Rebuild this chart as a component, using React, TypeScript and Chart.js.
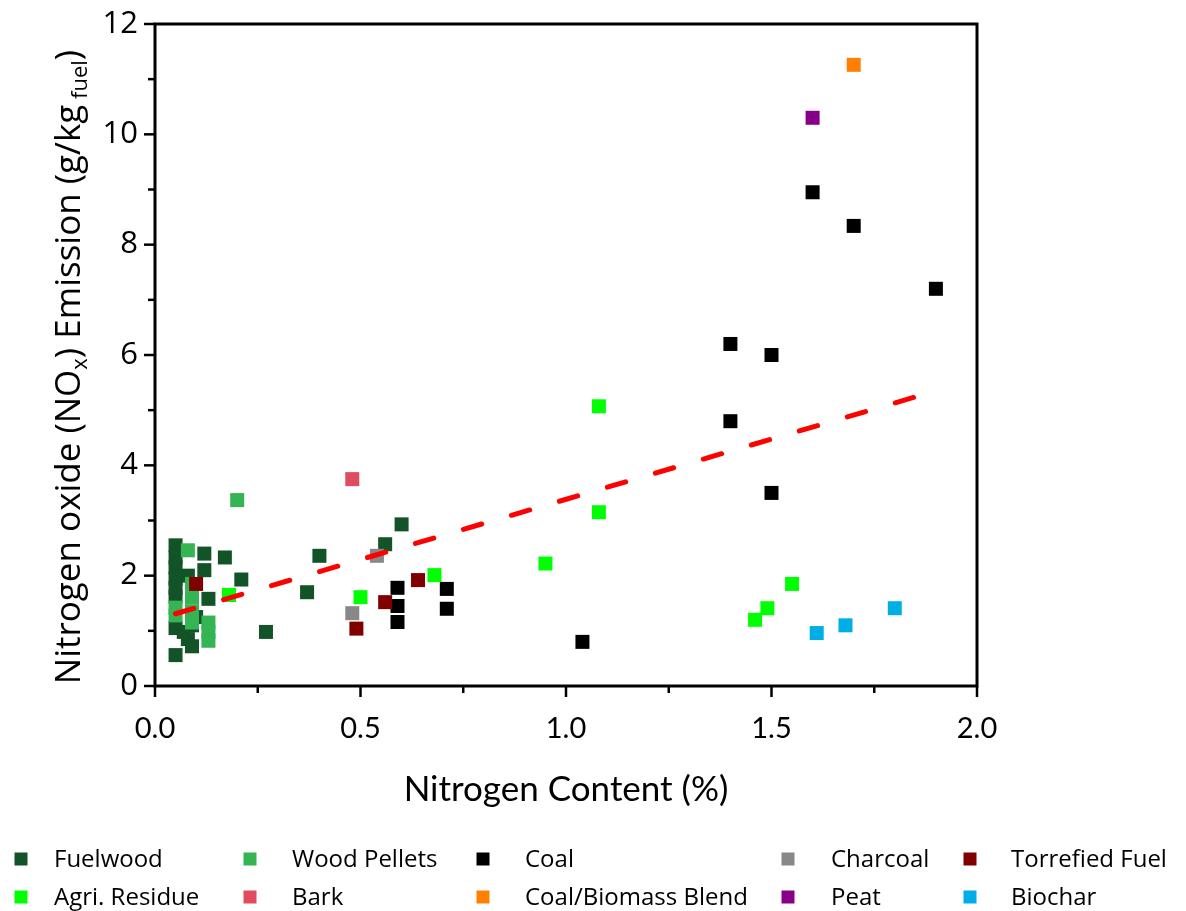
import { useEffect, useRef } from 'react';
import { Chart, registerables } from 'chart.js';

Chart.register(...registerables);

// Nitrogen content (%) and NOx emission (g/kg fuel), one pair of arrays per fuel type
const fuelwoodN = [0.05, 0.05, 0.05, 0.05, 0.05, 0.05, 0.08, 0.05, 0.07, 0.09, 0.1, 0.08, 0.09, 0.05, 0.12, 0.12, 0.13, 0.17, 0.21, 0.27, 0.37, 0.4, 0.56, 0.6];
const fuelwoodNOx = [2.55, 2.33, 2.15, 1.95, 1.78, 1.62, 2.0, 1.05, 0.98, 1.1, 1.25, 0.85, 0.72, 0.56, 2.4, 2.1, 1.58, 2.33, 1.93, 0.98, 1.7, 2.36, 2.57, 2.93];

const pelletsN = [0.2, 0.08, 0.09, 0.09, 0.09, 0.09, 0.05, 0.05, 0.13, 0.13, 0.13];
const pelletsNOx = [3.37, 2.46, 1.85, 1.6, 1.35, 1.15, 1.42, 1.28, 1.15, 0.98, 0.82];

const coalN = [0.59, 0.59, 0.59, 0.71, 0.71, 1.04, 1.4, 1.5, 1.4, 1.5, 1.9, 1.6, 1.7];
const coalNOx = [1.78, 1.45, 1.16, 1.76, 1.4, 0.8, 6.2, 6.0, 4.8, 3.5, 7.2, 8.95, 8.34];

const charcoalN = [0.54, 0.48];
const charcoalNOx = [2.36, 1.32];

const torrefiedN = [0.1, 0.49, 0.56, 0.64];
const torrefiedNOx = [1.85, 1.04, 1.52, 1.92];

const agriN = [0.18, 0.5, 0.68, 0.95, 1.08, 1.08, 1.55, 1.49, 1.46];
const agriNOx = [1.65, 1.61, 2.01, 2.22, 5.07, 3.15, 1.85, 1.41, 1.2];

const barkN = [0.48];
const barkNOx = [3.75];

const blendN = [1.7];
const blendNOx = [11.26];

const peatN = [1.6];
const peatNOx = [10.3];

const biocharN = [1.61, 1.68, 1.8];
const biocharNOx = [0.96, 1.1, 1.41];

// Linear fit end points
const fitN = [0.05, 1.85];
const fitNOx = [1.31, 5.24];

const xTicks = [0, 0.5, 1, 1.5, 2];
const yTicks = [0, 2, 4, 6, 8, 10, 12];

// Legend order is column by column: Fuelwood / Agri. Residue, Wood Pellets / Bark, ...
const seriesTable = [
  { label: 'Fuelwood', color: '#125428', n: fuelwoodN, v: fuelwoodNOx },
  { label: 'Agri. Residue', color: '#00FF00', n: agriN, v: agriNOx },
  { label: 'Wood Pellets', color: '#34B452', n: pelletsN, v: pelletsNOx },
  { label: 'Bark', color: '#E04B5F', n: barkN, v: barkNOx },
  { label: 'Coal', color: '#000000', n: coalN, v: coalNOx },
  { label: 'Coal/Biomass Blend', color: '#FF8000', n: blendN, v: blendNOx },
  { label: 'Charcoal', color: '#888888', n: charcoalN, v: charcoalNOx },
  { label: 'Peat', color: '#880088', n: peatN, v: peatNOx },
  { label: 'Torrefied Fuel', color: '#800000', n: torrefiedN, v: torrefiedNOx },
  { label: 'Biochar', color: '#00AEE6', n: biocharN, v: biocharNOx },
];

// Draw priority: fuelwood at the back, then wood pellets, coal, ...
const drawRank: Record<string, number> = {
  'Fuelwood': 0,
  'Wood Pellets': 1,
  'Coal': 2,
  'Charcoal': 3,
  'Torrefied Fuel': 4,
  'Agri. Residue': 5,
  'Bark': 6,
  'Coal/Biomass Blend': 7,
  'Peat': 8,
  'Biochar': 9,
};

const legendMarkerX = [21, 250, 483, 788, 970];
const legendTextX = [54, 292, 525, 831, 1011];
const legendRowY = [859, 897];

const AXIS_FONT = '"Open Sans", "DejaVu Sans", sans-serif';
const NARROW_FONT = 'Lato, "Open Sans", sans-serif';

const framePlugin = {
  id: 'frameAndText',
  afterDraw(chart: any) {
    const { ctx, chartArea } = chart;
    const { left, right, top, bottom } = chartArea;
    const xs = chart.scales.x;
    const ys = chart.scales.y;
    ctx.save();

    // frame
    ctx.strokeStyle = '#000';
    ctx.lineWidth = 3;
    ctx.lineCap = 'butt';
    ctx.strokeRect(left, top, right - left, bottom - top);

    // outward ticks on left and bottom
    ctx.lineWidth = 2.5;
    for (let v = 0; v <= 12 + 1e-9; v += 1) {
      const y = ys.getPixelForValue(v);
      const len = v % 2 === 0 ? 11 : 7;
      ctx.beginPath();
      ctx.moveTo(left, y);
      ctx.lineTo(left - len, y);
      ctx.stroke();
    }
    for (let i = 0; i <= 8; i++) {
      const v = i * 0.25;
      const x = xs.getPixelForValue(v);
      const len = i % 2 === 0 ? 11 : 7;
      ctx.beginPath();
      ctx.moveTo(x, bottom);
      ctx.lineTo(x, bottom + len);
      ctx.stroke();
    }

    // x-axis title
    ctx.fillStyle = '#000';
    ctx.font = `35px ${NARROW_FONT}`;
    ctx.textAlign = 'center';
    ctx.textBaseline = 'middle';
    ctx.fillText('Nitrogen Content (%)', (left + right) / 2, 790);

    // y-axis title with subscripts
    const parts = [
      { t: 'Nitrogen oxide (NO', sub: false },
      { t: 'x', sub: true },
      { t: ') Emission (g/kg', sub: false },
      { t: ' fuel', sub: true },
      { t: ')', sub: false },
    ];
    const mainFont = `35px ${AXIS_FONT}`;
    const subFont = `22px ${AXIS_FONT}`;
    let total = 0;
    const widths = parts.map((p) => {
      ctx.font = p.sub ? subFont : mainFont;
      const w = ctx.measureText(p.t).width;
      total += w;
      return w;
    });
    ctx.translate(80, 367);
    ctx.rotate(-Math.PI / 2);
    ctx.textAlign = 'left';
    ctx.textBaseline = 'alphabetic';
    let cx = -total / 2;
    parts.forEach((p, i) => {
      ctx.font = p.sub ? subFont : mainFont;
      ctx.fillText(p.t, cx, p.sub ? 7 : 0);
      cx += widths[i];
    });
    ctx.setTransform(1, 0, 0, 1, 0, 0);

    // legend, two rows by five columns
    ctx.font = `24px ${AXIS_FONT}`;
    ctx.textAlign = 'left';
    ctx.textBaseline = 'middle';
    chart.data.datasets.forEach((ds: any, i: number) => {
      if (ds.isFit) return;
      const col = Math.floor(i / 2);
      const row = i % 2;
      const y = legendRowY[row];
      ctx.fillStyle = ds.backgroundColor;
      ctx.fillRect(legendMarkerX[col] - 6.5, y - 6.5, 13, 13);
      ctx.fillStyle = '#000';
      ctx.fillText(ds.label, legendTextX[col], y + 1);
    });
    ctx.restore();
  },
};

export default function App() {
  const canvasRef = useRef<HTMLCanvasElement | null>(null);

  useEffect(() => {
    if (!canvasRef.current) return;
    const datasets: any[] = seriesTable.map((s) => ({
      type: 'scatter',
      label: s.label,
      data: s.n.map((n, i) => ({ x: n, y: s.v[i] })),
      backgroundColor: s.color,
      borderColor: s.color,
      borderWidth: 0,
      pointStyle: 'rect',
      pointRadius: 9.9,
      pointHoverRadius: 9.9,
      order: 20 - drawRank[s.label],
    }));
    datasets.push({
      type: 'line',
      label: 'Linear fit',
      isFit: true,
      data: fitN.map((n, i) => ({ x: n, y: fitNOx[i] })),
      borderColor: '#FF0000',
      backgroundColor: '#FF0000',
      borderWidth: 5,
      borderDash: [19, 31],
      borderCapStyle: 'round',
      pointRadius: 0,
      fill: false,
      order: 0,
    });

    const chart = new Chart(canvasRef.current, {
      type: 'scatter',
      data: { datasets },
      options: {
        animation: false,
        responsive: false,
        events: [],
        layout: { padding: { left: 0, top: 24, right: 209, bottom: 0 } },
        plugins: {
          legend: { display: false },
          tooltip: { enabled: false },
        },
        scales: {
          x: {
            type: 'linear',
            min: 0,
            max: 2,
            afterFit: (s: any) => { s.height = 225; },
            afterBuildTicks: (s: any) => { s.ticks = xTicks.map((v) => ({ value: v })); },
            grid: { display: false },
            border: { display: false },
            ticks: {
              autoSkip: false,
              maxRotation: 0,
              padding: 17,
              color: '#000',
              font: { family: NARROW_FONT, size: 29 },
              callback: (v: any) => Number(v).toFixed(1),
            },
          },
          y: {
            type: 'linear',
            min: 0,
            max: 12,
            afterFit: (s: any) => { s.width = 155; s.paddingTop = 0; s.paddingBottom = 0; },
            afterBuildTicks: (s: any) => { s.ticks = yTicks.map((v) => ({ value: v })); },
            grid: { display: false },
            border: { display: false },
            ticks: {
              autoSkip: false,
              padding: 9,
              color: '#000',
              font: { family: AXIS_FONT, size: 31, lineHeight: 0.6 },
              callback: (v: any) => String(v),
            },
          },
        },
      },
      plugins: [framePlugin],
    } as any);

    return () => chart.destroy();
  }, []);

  return (
    <div style={{ position: 'fixed', left: 0, top: 0, width: 1186, height: 911, background: '#fff' }}>
      <canvas ref={canvasRef} width={1186} height={911} style={{ width: 1186, height: 911, display: 'block' }} />
    </div>
  );
}
